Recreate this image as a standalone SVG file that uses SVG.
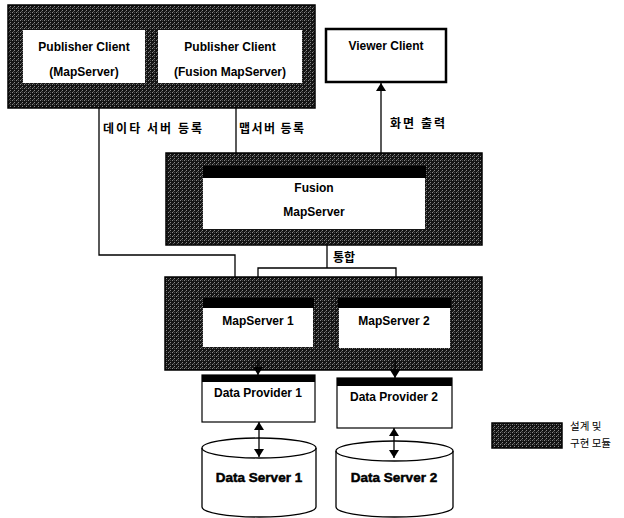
<svg xmlns="http://www.w3.org/2000/svg" width="624" height="518" viewBox="0 0 624 518">
<defs>
<pattern id="dither" width="4" height="4" patternUnits="userSpaceOnUse">
<rect width="4" height="4" fill="#141414"/>
<rect x="0" y="0" width="1" height="1" fill="#8a8a8a"/>
<rect x="2" y="2" width="1" height="1" fill="#8a8a8a"/>
<rect x="2" y="0" width="1" height="1" fill="#4a4a4a"/>
<rect x="1" y="3" width="1" height="1" fill="#5a5a5a"/>
</pattern>
<marker id="ah" viewBox="0 0 8 10" refX="8" refY="5" markerWidth="8" markerHeight="10" markerUnits="userSpaceOnUse" orient="auto-start-reverse">
<path d="M0,0 L8,5 L0,10 Z" fill="#000"/>
</marker>
<style>
.dark{fill:url(#dither);stroke:#000;stroke-width:1.5}
.wbox{fill:#fff;stroke:none}
.box{fill:#fff;stroke:#000;stroke-width:1.2}
.band{fill:#000}
.t{font-family:"Liberation Sans",Arial,sans-serif;font-weight:bold;font-size:12px;fill:#000;text-anchor:middle}
.ds{font-family:"Liberation Sans",Arial,sans-serif;font-weight:bold;font-size:13.5px;fill:#000;stroke:#000;stroke-width:0.5;text-anchor:middle}
.k{font-family:"Noto Sans CJK KR",sans-serif;font-weight:bold;font-size:12px;fill:#000}
.lg{font-family:"Noto Sans CJK KR",sans-serif;font-size:10.5px;fill:#000}
.ln{fill:none;stroke:#000;stroke-width:1.3}
.cyl{fill:#fff;stroke:#000;stroke-width:1.3}
</style>
</defs>

<g id="publisher-group">
<rect class="dark" x="8" y="5" width="307" height="103"/>
<g id="publisher-mapserver">
<rect class="wbox" x="23" y="30" width="122" height="53"/>
<text class="t" x="84" y="51">Publisher Client</text>
<text class="t" x="84" y="76">(MapServer)</text>
</g>
<g id="publisher-fusion">
<rect class="wbox" x="158" y="30" width="144" height="53"/>
<text class="t" x="230" y="51">Publisher Client</text>
<text class="t" x="230" y="76">(Fusion MapServer)</text>
</g>
</g>

<g id="viewer-client">
<rect x="326" y="29" width="120" height="53" fill="#fff" stroke="#000" stroke-width="2.5"/>
<text class="t" x="386" y="50">Viewer Client</text>
</g>

<g id="fusion-mapserver">
<rect class="dark" x="166" y="153" width="316" height="92"/>
<rect class="band" x="203" y="166" width="223" height="12"/>
<rect class="wbox" x="203" y="178" width="222" height="51"/>
<text class="t" x="314" y="192">Fusion</text>
<text class="t" x="314" y="216">MapServer</text>
</g>

<g id="mapserver-group">
<rect class="dark" x="165" y="277" width="317" height="93"/>
<g id="mapserver-1">
<rect class="band" x="203" y="298" width="111" height="10"/>
<rect class="wbox" x="203" y="308" width="110" height="39"/>
<text class="t" x="258" y="325">MapServer 1</text>
</g>
<g id="mapserver-2">
<rect class="band" x="338" y="298" width="113" height="10"/>
<rect class="wbox" x="339" y="308" width="111" height="40"/>
<text class="t" x="394" y="325">MapServer 2</text>
</g>
</g>

<g id="data-provider-1">
<rect class="box" x="202" y="375" width="113" height="47"/>
<rect class="band" x="202" y="375" width="113" height="7"/>
<text class="t" x="258" y="397">Data Provider 1</text>
</g>
<g id="data-provider-2">
<rect class="box" x="337" y="378" width="115" height="50"/>
<rect class="band" x="337" y="378" width="115" height="8"/>
<text class="t" x="394" y="401">Data Provider 2</text>
</g>

<g id="data-server-1">
<path class="cyl" d="M202,448 L202,507 A57,10 0 0 0 316,507 L316,448 A57,10 0 0 0 202,448 Z"/>
<path class="ln" d="M202,448 A57,10 0 0 0 316,448"/>
<text class="ds" x="259" y="482">Data Server 1</text>
</g>
<g id="data-server-2">
<path class="cyl" d="M336,451 L336,507 A58.5,10 0 0 0 453,507 L453,451 A58.5,10 0 0 0 336,451 Z"/>
<path class="ln" d="M336,451 A58.5,10 0 0 0 453,451"/>
<text class="ds" x="394" y="482">Data Server 2</text>
</g>

<g id="legend">
<rect class="dark" x="492" y="423" width="70" height="25" stroke="none"/>
<text class="lg" x="570" y="430">설계 및</text>
<text class="lg" x="570" y="447">구현 모듈</text>
</g>

<g id="connectors">
<polyline class="ln" points="99,108 99,255 235,255 235,277"/>
<line class="ln" x1="236" y1="108" x2="236" y2="153"/>
<line class="ln" x1="381" y1="153" x2="381" y2="83" marker-end="url(#ah)"/>
<polyline class="ln" points="327,245 327,268"/>
<polyline class="ln" points="258,277 258,268 396,268 396,277"/>
<line class="ln" x1="258" y1="360" x2="258" y2="375" marker-end="url(#ah)"/>
<line class="ln" x1="395" y1="360" x2="395" y2="378" marker-end="url(#ah)"/>
<line class="ln" x1="259" y1="422" x2="259" y2="457" marker-start="url(#ah)" marker-end="url(#ah)"/>
<line class="ln" x1="394" y1="428" x2="394" y2="458" marker-start="url(#ah)" marker-end="url(#ah)"/>
<text class="k" x="103" y="133" textLength="99" lengthAdjust="spacing">데이타 서버 등록</text>
<text class="k" x="239" y="133" textLength="65" lengthAdjust="spacing">맵서버 등록</text>
<text class="k" x="390" y="128" textLength="55" lengthAdjust="spacing">화면 출력</text>
<text class="k" x="333" y="262">통합</text>
</g>
</svg>
